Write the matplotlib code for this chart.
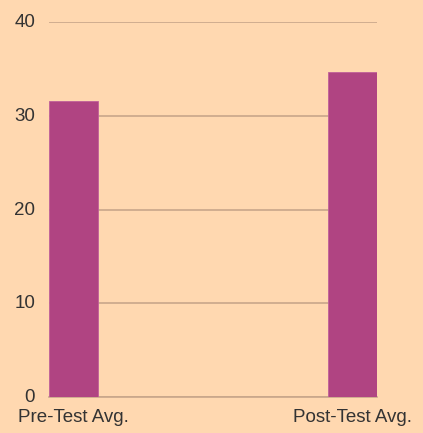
import matplotlib
matplotlib.use("Agg")
import matplotlib.pyplot as plt
import matplotlib.transforms as mtransforms

categories = ["Pre-Test Avg.", "Post-Test Avg."]
scores = [31.6, 34.7]
yticks = [0, 10, 20, 30, 40]

bg = "#FFD8B0"
bar_color = "#B04482"
grid_color = "#C8A68A"
text_color = "#333333"

plt.rcParams["font.family"] = ["Liberation Sans", "DejaVu Sans"]

fig = plt.figure(figsize=(4.23, 4.33), dpi=100, facecolor=bg)
W, H = 423, 433
ax = fig.add_axes([49 / W, 1 - 397 / H, (377 - 49) / W, (397 - 22) / H])
ax.set_facecolor(bg)

w = 49 / 279
x = list(range(len(categories)))
ax.bar(x, scores, width=w, color=bar_color, edgecolor="#C0609A", linewidth=0.6, zorder=3)
ax.set_xlim(-w / 2, 1 + w / 2)
ax.set_ylim(0, 40)

ax.set_yticks(yticks)
ax.yaxis.grid(True, color=grid_color, linewidth=1.2, zorder=0)
for s in ["top", "right", "left"]:
    ax.spines[s].set_visible(False)
ax.spines["bottom"].set_color(grid_color)
ax.spines["bottom"].set_linewidth(1.2)

ax.set_xticks(x)
ax.set_xticklabels(categories)
ax.tick_params(axis="both", length=0, colors=text_color, labelsize=13.5)
ax.tick_params(axis="y", pad=10)
ax.tick_params(axis="x", pad=9)
shift = mtransforms.ScaledTranslation(0, 1 / 72, fig.dpi_scale_trans)
for lbl in ax.get_yticklabels():
    lbl.set_transform(lbl.get_transform() + shift)

fig.savefig("out.png", dpi=100, facecolor=bg)
